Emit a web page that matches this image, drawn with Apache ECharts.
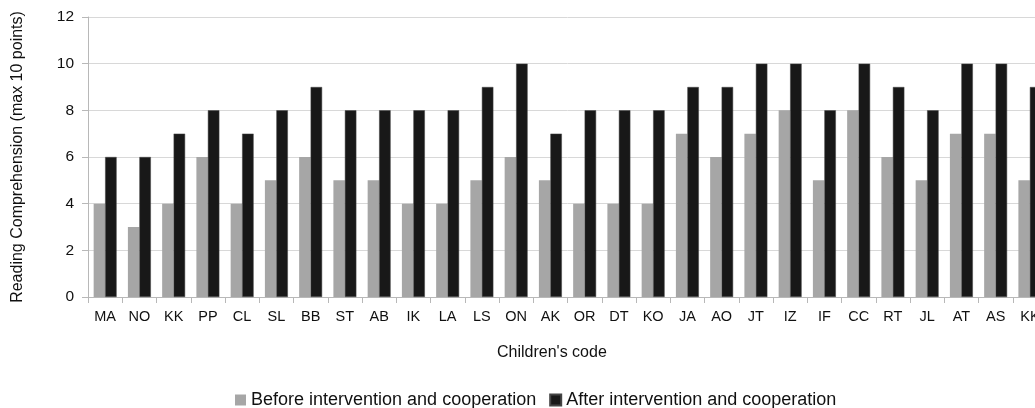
<!DOCTYPE html>
<html>
<head>
<meta charset="utf-8">
<script src="https://cdn.jsdelivr.net/npm/echarts@6/dist/echarts.min.js"></script>
<style>
  html, body { margin: 0; padding: 0; background: #fff; overflow: hidden; }
  /* the original figure is cropped on the right, so the canvas is a bit wider than the window */
  #chart { width: 1048px; height: 408px; }
</style>
</head>
<body>
<div id="chart"></div>
<script>
  // children codes, last one is cut off at the right edge in the original
  const codes = ['MA', 'NO', 'KK', 'PP', 'CL', 'SL', 'BB', 'ST', 'AB', 'IK', 'LA', 'LS', 'ON', 'AK',
    'OR', 'DT', 'KO', 'JA', 'AO', 'JT', 'IZ', 'IF', 'CC', 'RT', 'JL', 'AT', 'AS', 'KK']
  const before = [4, 3, 4, 6, 4, 5, 6, 5, 5, 4, 4, 5, 6, 5, 4, 4, 4, 7, 6, 7, 8, 5, 8, 6, 5, 7, 7, 5]
  const after = [6, 6, 7, 8, 7, 8, 9, 8, 8, 8, 8, 9, 10, 7, 8, 8, 8, 9, 9, 10, 10, 8, 10, 9, 8, 10, 10, 9]
  const yTicks = [0, 2, 4, 6, 8, 10, 12]

  const font = "'Liberation Sans', Arial, Helvetica, sans-serif"
  let chart = echarts.init(document.getElementById('chart'))

  chart.setOption({
    animation: false,
    textStyle: { fontFamily: font, color: '#111' },
    title: {
      text: "Children's code",
      left: 492,
      top: 340,
      textStyle: { fontFamily: font, fontSize: 16, fontWeight: 'normal', color: '#111' }
    },
    legend: {
      left: 230,
      top: 386,
      itemWidth: 11,
      itemHeight: 11,
      itemGap: 13,
      icon: 'rect',
      textStyle: { fontFamily: font, fontSize: 18, color: '#111' },
      data: ['Before intervention and cooperation', 'After intervention and cooperation']
    },
    grid: {
      left: 88,
      right: 1,
      top: 17,
      bottom: 111
    },
    xAxis: {
      type: 'category',
      data: codes,
      axisLine: { lineStyle: { color: '#b8b8b8' } },
      axisTick: { show: true, length: 6, lineStyle: { color: '#b8b8b8' } },
      axisLabel: { fontFamily: font, fontSize: 14.5, color: '#111', margin: 12, interval: 0 }
    },
    yAxis: {
      type: 'value',
      min: 0,
      max: yTicks[yTicks.length - 1],
      interval: 2,
      name: 'Reading Comprehension (max 10 points)',
      nameLocation: 'middle',
      nameGap: 62,
      nameTextStyle: { fontFamily: font, fontSize: 16, color: '#111' },
      axisLine: { show: true, lineStyle: { color: '#b8b8b8' } },
      axisTick: { show: true, length: 6, lineStyle: { color: '#b8b8b8' } },
      axisLabel: { fontFamily: font, fontSize: 15.5, color: '#111', margin: 14 },
      splitLine: { lineStyle: { color: '#d8d8d8' } }
    },
    series: [
      {
        name: 'Before intervention and cooperation',
        type: 'bar',
        data: before,
        barGap: '0%',
        barCategoryGap: '33%',
        itemStyle: { color: '#a6a6a6' }
      },
      {
        name: 'After intervention and cooperation',
        type: 'bar',
        data: after,
        itemStyle: { color: '#181818', borderColor: '#444', borderWidth: 0.5 }
      }
    ]
  })
</script>
</body>
</html>
